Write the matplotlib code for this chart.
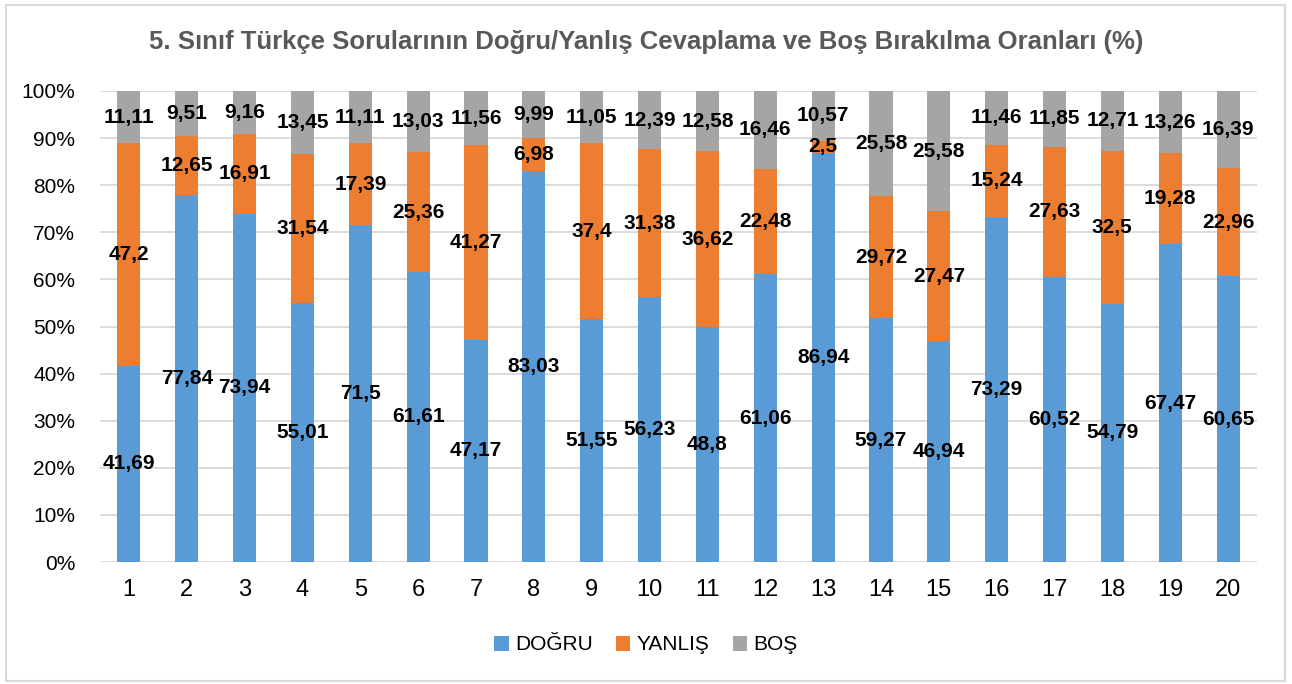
import numpy as np
import matplotlib.pyplot as plt
from matplotlib import font_manager
from matplotlib.patches import Rectangle
from matplotlib.ticker import PercentFormatter

# pick a narrow face if one is there
names = {f.name for f in font_manager.fontManager.ttflist}
narrow = 'Liberation Sans Narrow' if 'Liberation Sans Narrow' in names else 'Liberation Sans'
plt.rcParams['font.family'] = [narrow, 'DejaVu Sans']

questions = [str(i) for i in range(1, 21)]
dogru = [41.69, 77.84, 73.94, 55.01, 71.5, 61.61, 47.17, 83.03, 51.55, 56.23,
         48.8, 61.06, 86.94, 59.27, 46.94, 73.29, 60.52, 54.79, 67.47, 60.65]
yanlis = [47.2, 12.65, 16.91, 31.54, 17.39, 25.36, 41.27, 6.98, 37.4, 31.38,
          36.62, 22.48, 2.5, 29.72, 27.47, 15.24, 27.63, 32.5, 19.28, 22.96]
bos = [11.11, 9.51, 9.16, 13.45, 11.11, 13.03, 11.56, 9.99, 11.05, 12.39,
       12.58, 16.46, 10.57, 25.58, 25.58, 11.46, 11.85, 12.71, 13.26, 16.39]
series_names = ['DOĞRU', 'YANLIŞ', 'BOŞ']
colors = ['#5B9BD5', '#ED7D31', '#A5A5A5']

raw = np.array([dogru, yanlis, bos])
share = raw / raw.sum(axis=0) * 100  # 100% stacked

fig = plt.figure(figsize=(12.92, 6.84), dpi=100)
ax = fig.add_axes([100 / 1292, 1 - 562 / 684, 1157 / 1292, 471 / 684])

x = np.arange(len(questions))
bottom = np.zeros(len(questions))
for vals, pct, name, col in zip(raw, share, series_names, colors):
    bars = ax.bar(x, pct, 0.4, bottom=bottom, color=col, label=name, zorder=2)
    labels = [str(v).replace('.', ',') for v in vals]
    ax.bar_label(bars, labels=labels, label_type='center', fontsize=15,
                 fontweight='bold', color='black', zorder=3)
    bottom += pct

ax.set_xlim(-0.5, len(questions) - 0.5)
ax.set_ylim(0, 100)
ax.set_yticks(np.arange(0, 101, 10))
ax.yaxis.set_major_formatter(PercentFormatter(decimals=0))
ax.set_xticks(x, questions)
ax.grid(axis='y', color='#D9D9D9', lw=1.3, zorder=0)
ax.tick_params(length=0, colors='#000000')
ax.tick_params(axis='x', pad=12, labelsize=17)
ax.tick_params(axis='y', pad=18, labelsize=15)
for s in ax.spines.values():
    s.set_visible(False)

fig.text(0.5, 1 - 42 / 684, '5. Sınıf Türkçe Sorularının Doğru/Yanlış Cevaplama ve Boş Bırakılma Oranları (%)',
         ha='center', va='center', fontsize=18.5, fontweight='bold', color='#595959')

fig.legend(loc='center', bbox_to_anchor=(0.5, 1 - 645 / 684), ncol=3, frameon=False,
           fontsize=15, handlelength=0.7, handleheight=0.7, columnspacing=1.1, handletextpad=0.3)

fig.patches.append(Rectangle((6 / 1292, 3 / 684), 1279 / 1292, 676 / 684, transform=fig.transFigure,
                             fill=False, edgecolor='#D9D9D9', lw=1.5))

fig.savefig('out.png', dpi=100)
